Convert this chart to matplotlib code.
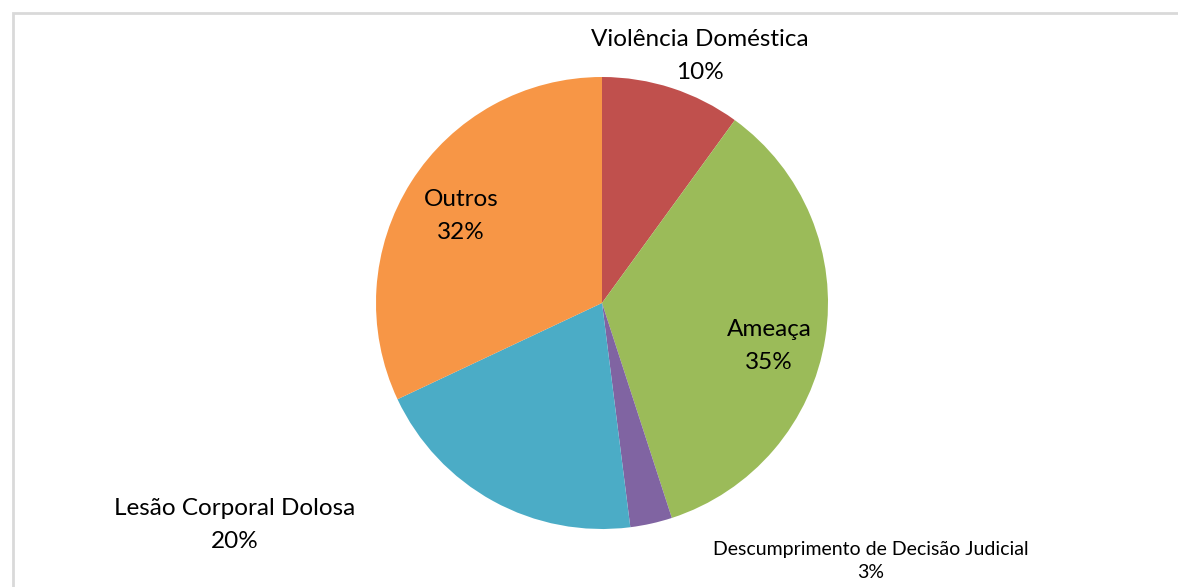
import matplotlib
matplotlib.use("Agg")
import matplotlib.pyplot as plt
from matplotlib.patches import Rectangle

labels = ["Violência Doméstica", "Ameaça", "Descumprimento de Decisão Judicial",
          "Lesão Corporal Dolosa", "Outros"]
values = [10, 35, 3, 20, 32]
colors = ["#C0504D", "#9BBB59", "#8064A2", "#4BACC6", "#F79646"]

W, H = 1178, 587
fig = plt.figure(figsize=(W / 100, H / 100), dpi=100)
ax = fig.add_axes([0, 0, 1, 1])
ax.set_xlim(0, W)
ax.set_ylim(0, H)
ax.set_aspect("equal")
ax.axis("off")

# chart border
ax.add_patch(Rectangle((12.5, -10), W + 10, H - 13 + 10, fill=False,
                       edgecolor="#D9D9D9", linewidth=2))

cx, cy, r = 602, H - 303, 226
ax.pie(values, colors=colors, startangle=90, counterclock=False,
       center=(cx, cy), radius=r, wedgeprops=dict(linewidth=0),
       frame=True)
ax.set_xlim(0, W)
ax.set_ylim(0, H)
ax.axis("off")

font = "Lato"
lab_pos = [(700, 56), (769, 346), (871, 561), (235, 525), (461, 216)]
for lab, v, (x, y), in zip(labels, values, lab_pos):
    small = lab.startswith("Descumprimento")
    fs = 14 if small else 17.5
    ls = 1.5 if small else 1.65
    ax.text(x, H - y, f"{lab}\n{v}%", ha="center", va="center",
            fontsize=fs, family=font, color="black", linespacing=ls)

fig.savefig("out.png", dpi=100)
